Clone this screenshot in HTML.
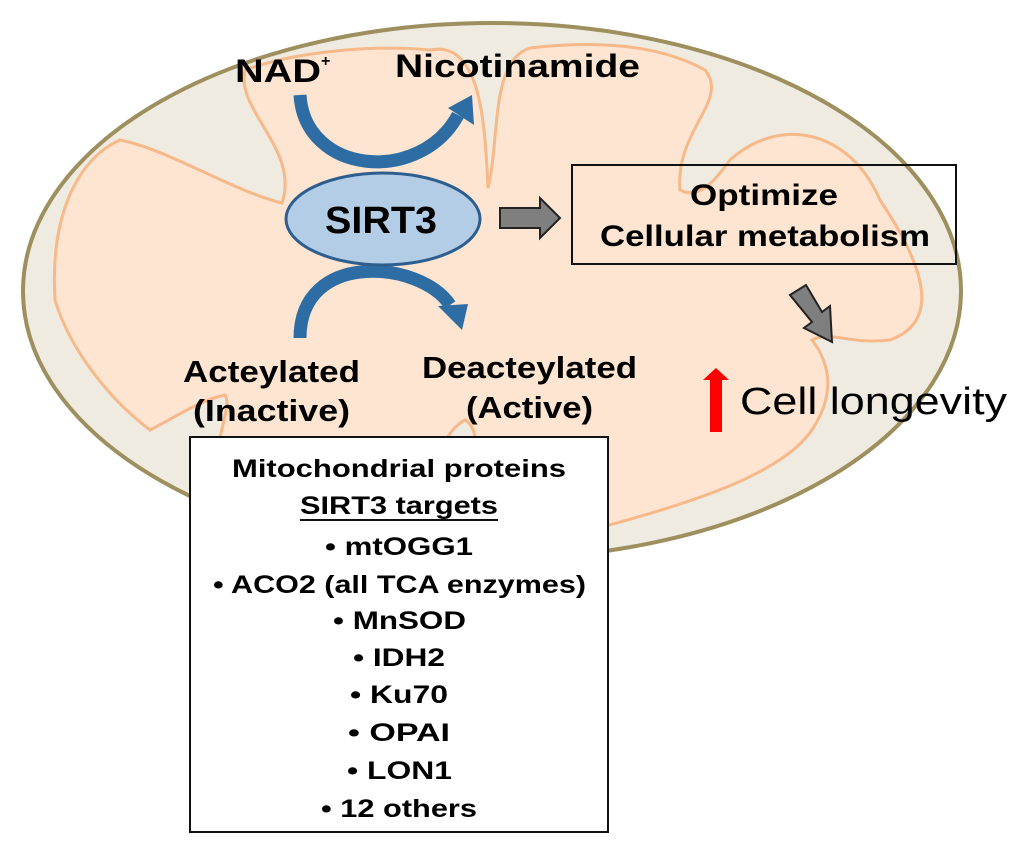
<!DOCTYPE html>
<html><head><meta charset="utf-8"><style>
body{margin:0;background:#fff;}
svg{display:block;font-family:"Liberation Sans",Arial,sans-serif;font-weight:bold;}
</style></head><body>
<svg width="1024" height="853" viewBox="0 0 1024 853">
<ellipse cx="492" cy="291" rx="469" ry="268" fill="#efebe0" stroke="#9d8f5e" stroke-width="4"/>
<path d="M55,300 C50,220 75,160 120,140 C170,150 230,190 282,203 C300,150 235,110 245,70 C300,50 380,45 430,50 C480,40 485,120 488,188 C500,140 490,60 530,48 C600,40 660,45 705,70 C730,100 675,130 680,190 C700,200 715,180 730,160 C780,115 850,130 880,200 C920,260 945,320 890,340 C850,345 830,330 812,340 C835,370 830,400 815,425 C790,470 700,500 620,522 C560,540 500,548 468,530 C475,490 485,430 465,420 C445,430 425,470 430,530 C400,545 300,540 225,522 C200,460 235,410 225,395 C200,400 170,420 150,430 C110,400 70,350 55,300 Z" fill="#fde5d1" stroke="#f7b88a" stroke-width="3"/>
<path d="M300,95 C305,175 420,185 458,115" fill="none" stroke="#2e6da4" stroke-width="13"/>
<polygon points="448,108 472,95 474,125" fill="#2e6da4"/>
<path d="M300,338 C300,250 420,260 450,305" fill="none" stroke="#2e6da4" stroke-width="13"/>
<polygon points="438,306 468,304 462,330" fill="#2e6da4"/>
<ellipse cx="383" cy="219" rx="97" ry="46" fill="#b4cde6" stroke="#2e5e8e" stroke-width="3"/>
<text x="325" y="233" font-size="38" textLength="112" lengthAdjust="spacingAndGlyphs">SIRT3</text>
<text x="235" y="82" font-size="32" textLength="86" lengthAdjust="spacingAndGlyphs">NAD</text><text x="321" y="66" font-size="16">+</text>
<text x="395" y="77" font-size="32" textLength="245" lengthAdjust="spacingAndGlyphs">Nicotinamide</text>
<text x="183" y="382" font-size="31" textLength="177" lengthAdjust="spacingAndGlyphs">Acteylated</text>
<text x="193" y="421" font-size="31" textLength="157" lengthAdjust="spacingAndGlyphs">(Inactive)</text>
<text x="422" y="378" font-size="31" textLength="215" lengthAdjust="spacingAndGlyphs">Deacteylated</text>
<text x="466" y="418" font-size="31" textLength="127" lengthAdjust="spacingAndGlyphs">(Active)</text>
<path d="M500,208 L540,208 L540,198 L560,218 L540,238 L540,228 L500,228 Z" fill="#7f7f7f" stroke="#222" stroke-width="2"/>
<rect x="572" y="165" width="384" height="99" fill="none" stroke="#111" stroke-width="2"/>
<text x="690" y="205" font-size="30" textLength="148" lengthAdjust="spacingAndGlyphs">Optimize</text>
<text x="600" y="246" font-size="30" textLength="330" lengthAdjust="spacingAndGlyphs">Cellular metabolism</text>
<path d="M790,295 L806,285 L822,312 L830,306 L832,342 L804,328 L812,322 Z" fill="#7f7f7f" stroke="#222" stroke-width="2"/>
<path d="M716,368 L729,380 L722,380 L722,432 L710,432 L710,380 L703,380 Z" fill="#f00"/>
<text x="740" y="414" font-size="38" font-weight="normal" textLength="267" lengthAdjust="spacingAndGlyphs">Cell longevity</text>
<rect x="190" y="437" width="418" height="395" fill="#fff" stroke="#111" stroke-width="2"/>
<g font-size="25">
<text x="232" y="477" textLength="334" lengthAdjust="spacingAndGlyphs">Mitochondrial proteins</text>
<text x="300" y="514" textLength="198" lengthAdjust="spacingAndGlyphs">SIRT3 targets</text>
<text x="325" y="555" textLength="148" lengthAdjust="spacingAndGlyphs">• mtOGG1</text>
<text x="213" y="593" textLength="373" lengthAdjust="spacingAndGlyphs">• ACO2 (all TCA enzymes)</text>
<text x="333" y="629" textLength="133" lengthAdjust="spacingAndGlyphs">• MnSOD</text>
<text x="353" y="666" textLength="92" lengthAdjust="spacingAndGlyphs">• IDH2</text>
<text x="350" y="703" textLength="98" lengthAdjust="spacingAndGlyphs">• Ku70</text>
<text x="348" y="741" textLength="102" lengthAdjust="spacingAndGlyphs">• OPAI</text>
<text x="347" y="779" textLength="105" lengthAdjust="spacingAndGlyphs">• LON1</text>
<text x="321" y="817" textLength="156" lengthAdjust="spacingAndGlyphs">• 12 others</text>
</g>
<line x1="300" y1="520" x2="498" y2="520" stroke="#111" stroke-width="2"/>
</svg>
</body></html>
